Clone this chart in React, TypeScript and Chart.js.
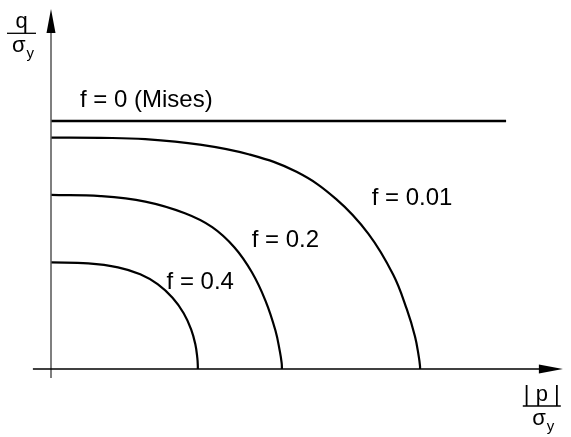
import React, { useEffect, useRef } from "react";
import { Chart, registerables } from "chart.js";

Chart.register(...registerables);

// Normalised pressure |p|/σy and stress q/σy
const misesP = [0, 1.835];
const misesQ = [1.0, 1.0];

const f001P = [0, 0.2, 0.38, 0.6, 0.8, 0.99, 1.15, 1.28, 1.38, 1.435, 1.468, 1.483, 1.488, 1.488];
const f001Q = [0.933, 0.932, 0.927, 0.905, 0.865, 0.795, 0.685, 0.545, 0.38, 0.24, 0.13, 0.05, 0.012, 0];

const f02P = [0, 0.2, 0.38, 0.54, 0.65, 0.74, 0.81, 0.865, 0.905, 0.923, 0.93, 0.931, 0.931];
const f02Q = [0.702, 0.697, 0.675, 0.628, 0.572, 0.49, 0.39, 0.275, 0.155, 0.07, 0.025, 0.008, 0];

const f04P = [0, 0.15, 0.27, 0.36, 0.43, 0.49, 0.535, 0.565, 0.582, 0.59, 0.592, 0.592];
const f04Q = [0.43, 0.426, 0.41, 0.382, 0.342, 0.287, 0.225, 0.16, 0.1, 0.045, 0.012, 0];

const curveLabels = ["f = 0 (Mises)", "f = 0.01", "f = 0.2", "f = 0.4"];

const W = 571;
const H = 437;
const FONT = '"Liberation Sans", Arial, Helvetica, sans-serif';

const pts = (xs: number[], ys: number[]) => xs.map((x, i) => ({ x, y: ys[i] }));

export default function App() {
  const ref = useRef<HTMLCanvasElement | null>(null);

  useEffect(() => {
    if (!ref.current) return;
    const labelAnchors = [
      { p: 0.117, q: 1.058 },
      { p: 1.293, q: 0.661 },
      { p: 0.809, q: 0.492 },
      { p: 0.466, q: 0.323 },
    ];

    const overlay = {
      id: "overlay",
      afterDatasetsDraw(chart: any) {
        const ctx = chart.ctx as CanvasRenderingContext2D;
        const xs = chart.scales.x;
        const ys = chart.scales.y;
        const X = (v: number) => xs.getPixelForValue(v);
        const Y = (v: number) => ys.getPixelForValue(v);
        const ox = X(0);
        const oy = Y(0);
        ctx.save();
        // vertical axis
        ctx.strokeStyle = "#555";
        ctx.lineWidth = 1.5;
        ctx.beginPath();
        ctx.moveTo(ox, Y(-0.036));
        ctx.lineTo(ox, Y(1.36));
        ctx.stroke();
        ctx.fillStyle = "#000";
        const yt = Y(1.452);
        ctx.beginPath();
        ctx.moveTo(ox, yt);
        ctx.lineTo(ox - 4.5, yt + 24);
        ctx.lineTo(ox + 4.5, yt + 24);
        ctx.closePath();
        ctx.fill();
        // horizontal axis
        ctx.strokeStyle = "#000";
        ctx.beginPath();
        ctx.moveTo(X(-0.073), oy);
        ctx.lineTo(X(1.97), oy);
        ctx.stroke();
        const xt = X(2.064);
        ctx.beginPath();
        ctx.moveTo(xt, oy);
        ctx.lineTo(xt - 24, oy - 4.5);
        ctx.lineTo(xt - 24, oy + 4.5);
        ctx.closePath();
        ctx.fill();

        // curve labels
        ctx.font = `24px ${FONT}`;
        ctx.textBaseline = "alphabetic";
        ctx.textAlign = "left";
        curveLabels.forEach((t, i) => {
          ctx.fillText(t, X(labelAnchors[i].p), Y(labelAnchors[i].q));
        });

        // axis fraction labels
        const frac = (cx: number, ly: number, top: string, lw: number) => {
          ctx.font = `22px ${FONT}`;
          ctx.textAlign = "center";
          ctx.fillText(top, cx, ly - 5);
          ctx.lineWidth = 1.3;
          ctx.beginPath();
          ctx.moveTo(cx - lw / 2, ly);
          ctx.lineTo(cx + lw / 2, ly);
          ctx.stroke();
          ctx.textAlign = "left";
          ctx.fillText("σ", cx - 9.5, ly + 19);
          ctx.font = `15px ${FONT}`;
          ctx.fillText("y", cx + 5, ly + 25);
        };
        frac(ox - 29.5, oy - 335.7, "q", 29);
        frac(X(1.979), oy + 37, "| p |", 38);
        ctx.restore();
      },
    };

    const line = (data: any[], w = 2.2) => ({
      data,
      borderColor: "#000",
      borderWidth: w,
      pointRadius: 0,
      tension: 0.4,
      fill: false,
    });

    const chart = new Chart(ref.current, {
      type: "line",
      data: {
        datasets: [
          line(pts(misesP, misesQ), 2.4),
          line(pts(f001P, f001Q)),
          line(pts(f02P, f02Q)),
          line(pts(f04P, f04Q)),
        ],
      },
      options: {
        animation: false,
        responsive: false,
        layout: { padding: 0 },
        plugins: { legend: { display: false }, tooltip: { enabled: false }, title: { display: false } },
        scales: {
          x: { type: "linear", display: false, min: -51 / 248, max: (W - 51) / 248 },
          y: { type: "linear", display: false, min: -(H - 369) / 248, max: 369 / 248 },
        },
      },
      plugins: [overlay],
    });
    return () => chart.destroy();
  }, []);

  return (
    <div style={{ position: "fixed", left: 0, top: 0, width: W, height: H, background: "#fff" }}>
      <canvas ref={ref} width={W} height={H} style={{ width: W, height: H, display: "block" }} />
    </div>
  );
}
